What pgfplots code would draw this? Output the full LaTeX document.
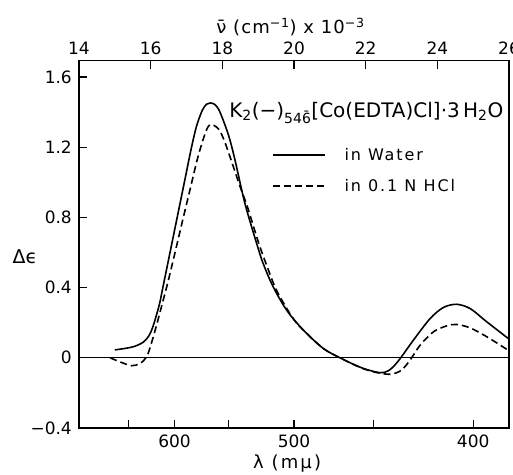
\documentclass[border=0pt]{standalone}
\usepackage{fontspec}
\setmainfont{DejaVu Sans}
\usepackage{pgfplots}
\pgfplotsset{compat=1.18}
\begin{document}
\begin{tikzpicture}
\useasboundingbox (-79pt,-46pt) rectangle (434pt,428pt);
\begin{axis}[
  at={(0pt,0pt)}, anchor=south west,
  scale only axis, width=430pt, height=367.3pt,
  xmin=14, xmax=26, ymin=-0.4, ymax=1.693,
  axis line style={line width=1.4pt},
  tick align=inside, major tick length=8pt,
  tick style={line width=1.1pt, black},
  xtick={15.3846,16.6667,18.1818,20,22.2222,25},
  xticklabels={,600,,500,,400},
  xtick pos=bottom, ytick pos=left,
  ytick={-0.4,0,0.4,0.8,1.2,1.6},
  yticklabels={−0.4,0,0.4,0.8,1.2,1.6},
  ticklabel style={font=\fontsize{17}{20}\selectfont},
  xticklabel style={anchor=center, yshift=-13pt},
  yticklabel style={anchor=east, xshift=-7pt, inner sep=0pt},
  xlabel={λ (mμ)},
  xlabel style={at={(rel axis cs:0.484,-0.098)}, anchor=center, inner sep=0pt,
    font=\fontsize{18}{21}\selectfont\addfontfeature{LetterSpace=12}},
  ylabel={Δϵ},
  ylabel style={rotate=-90, at={(rel axis cs:-0.1256,0.466)}, anchor=center, inner sep=0pt,
    font=\fontsize{19}{22}\selectfont},
  legend style={draw=none, fill=none, at={(axis cs:19.378,1.068)}, anchor=west,
    font=\fontsize{16}{19}\selectfont\addfontfeature{LetterSpace=12},
    row sep=17pt, inner sep=0pt, nodes={inner sep=0pt}},
  legend cell align=left,
  legend image code/.code={\draw[#1] (0pt,0pt) -- (52pt,0pt); \path (71pt,0pt);},
]
\addplot[forget plot, line width=0.9pt] coordinates {(14,0) (26,0)};
\addplot[line width=1.6pt, smooth, tension=0.5] coordinates {
(15.00,0.045) (15.30,0.054) (15.55,0.065) (15.80,0.09) (15.95,0.125)
(16.05,0.17) (16.15,0.235) (16.25,0.31) (16.34,0.40) (16.54,0.60)
(16.74,0.80) (16.94,1.00) (17.13,1.19) (17.28,1.32) (17.44,1.41)
(17.56,1.445) (17.66,1.452) (17.78,1.445) (17.90,1.415) (18.05,1.34)
(18.20,1.25) (18.35,1.13) (18.63,0.88) (18.96,0.65) (19.14,0.537)
(19.42,0.404) (19.80,0.27) (20.26,0.158) (20.82,0.053) (21.38,-0.01)
(21.93,-0.06) (22.40,-0.085) (22.63,-0.074) (22.82,-0.04) (23.00,0.006)
(23.33,0.10) (23.80,0.224) (24.17,0.287) (24.54,0.305) (24.92,0.28)
(25.38,0.205) (25.98,0.11)
};
\addlegendentry{in Water}
\addplot[line width=1.6pt, dash pattern=on 7pt off 4pt, smooth, tension=0.5] coordinates {
(14.87,0.0) (15.14,-0.023) (15.47,-0.045) (15.70,-0.032) (15.89,0.006)
(16.03,0.09) (16.17,0.19) (16.30,0.29) (16.48,0.43) (16.68,0.60)
(16.90,0.79) (17.10,0.96) (17.30,1.13) (17.45,1.235) (17.56,1.30)
(17.65,1.328) (17.76,1.325) (17.91,1.30) (18.05,1.24) (18.19,1.16)
(18.47,0.99) (18.70,0.86) (19.02,0.65) (19.25,0.52) (19.50,0.39)
(19.86,0.26) (20.10,0.19) (20.26,0.158) (20.82,0.053) (21.38,-0.01)
(21.93,-0.062) (22.40,-0.088) (22.73,-0.093) (23.00,-0.07) (23.24,-0.013)
(23.52,0.072) (23.89,0.148) (24.26,0.182) (24.54,0.19) (24.91,0.171)
(25.38,0.12) (25.94,0.048)
};
\addlegendentry{in 0.1\hspace{0.45em}N\hspace{0.45em}HCl}
\node[anchor=base west, inner sep=0pt, font=\fontsize{20}{24}\selectfont] at (axis cs:18.19,1.368)
  {K\textsubscript{2}(−)\textsubscript{54\=6}[Co(EDTA)Cl]·3\,H\textsubscript{2}O};
\end{axis}
\begin{axis}[
  at={(0pt,0pt)}, anchor=south west,
  scale only axis, width=430pt, height=367.3pt,
  xmin=14, xmax=26, ymin=-0.4, ymax=1.693,
  axis x line*=top, axis y line=none,
  axis line style={line width=1.4pt},
  tick align=inside, major tick length=8pt,
  tick style={line width=1.1pt, black},
  xtick={14,16,18,20,22,24,26},
  xticklabels={14,16,18,20,22,24,26},
  ticklabel style={font=\fontsize{17}{20}\selectfont},
  xticklabel style={anchor=center, yshift=12.7pt},
  xlabel={ν̄ (cm\textsuperscript{−1}) x 10\textsuperscript{−3}},
  xlabel style={at={(rel axis cs:0.492,1.0926)}, anchor=center, inner sep=0pt,
    font=\fontsize{18}{21}\selectfont\addfontfeature{LetterSpace=6}},
]
\end{axis}
\end{tikzpicture}
\end{document}
